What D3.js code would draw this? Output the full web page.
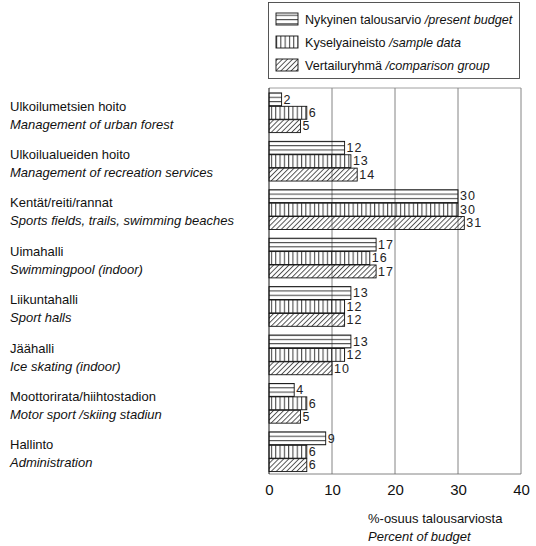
<!DOCTYPE html>
<html>
<head>
<meta charset="utf-8">
<script src="https://cdn.jsdelivr.net/npm/d3@7"></script>
<style>
  body { margin: 0; background: #fff; }
  svg { font-family: "Liberation Sans", Arial, sans-serif; }
</style>
</head>
<body>
<script>
// categories (Finnish / English)
const categoriesFi = ["Ulkoilumetsien hoito", "Ulkoilualueiden hoito", "Kentät/reiti/rannat", "Uimahalli",
  "Liikuntahalli", "Jäähalli", "Moottorirata/hiihtostadion", "Hallinto"];
const categoriesEn = ["Management of urban forest", "Management of recreation services",
  "Sports fields, trails, swimming beaches", "Swimmingpool (indoor)", "Sport halls",
  "Ice skating (indoor)", "Motor sport /skiing stadiun", "Administration"];

const seriesFi = ["Nykyinen talousarvio", "Kyselyaineisto", "Vertailuryhmä"];
const seriesEn = ["/present budget", "/sample data", "/comparison group"];

const presentBudget = [2, 12, 30, 17, 13, 13, 4, 9];
const sampleData = [6, 13, 30, 16, 12, 12, 6, 6];
const comparisonGroup = [5, 14, 31, 17, 12, 10, 5, 6];

const xTicks = [0, 10, 20, 30, 40];

const width = 536, height = 546;

const svg = d3.select("body").append("svg")
  .attr("width", width)
  .attr("height", height);

// patterns
const defs = svg.append("defs");
defs.append("pattern").attr("id", "p0")
  .attr("patternUnits", "userSpaceOnUse").attr("width", 8).attr("height", 4.3)
  .append("path").attr("d", "M0 0.6H8").attr("stroke", "#222").attr("stroke-width", 0.9);
defs.append("pattern").attr("id", "p1")
  .attr("patternUnits", "userSpaceOnUse").attr("width", 4.3).attr("height", 8)
  .append("path").attr("d", "M0.6 0V8").attr("stroke", "#222").attr("stroke-width", 0.9);
defs.append("pattern").attr("id", "p2")
  .attr("patternUnits", "userSpaceOnUse").attr("width", 3.6).attr("height", 8)
  .attr("patternTransform", "rotate(45)")
  .append("path").attr("d", "M0.5 0V8").attr("stroke", "#222").attr("stroke-width", 0.8);

const series = [presentBudget, sampleData, comparisonGroup];

const x = d3.scaleLinear().domain([0, 40]).range([269, 521]);
const y = d3.scaleBand().domain(d3.range(categoriesFi.length))
  .range([90, 474]).paddingInner(0.17).paddingOuter(0.05);
const ySub = d3.scaleBand().domain(d3.range(3)).range([0, y.bandwidth()]);

const plotTop = 88, plotBottom = 474;

// frame & gridlines
svg.append("g").selectAll("line")
  .data(xTicks.slice(1))
  .join("line")
  .attr("x1", d => x(d)).attr("x2", d => x(d))
  .attr("y1", plotTop).attr("y2", plotBottom)
  .attr("stroke", "#666").attr("stroke-width", 0.8);
svg.append("line").attr("x1", x(0)).attr("x2", x(40)).attr("y1", plotTop).attr("y2", plotTop)
  .attr("stroke", "#888").attr("stroke-width", 0.8);
svg.append("line").attr("x1", x(0)).attr("x2", x(40)).attr("y1", plotBottom).attr("y2", plotBottom)
  .attr("stroke", "#666").attr("stroke-width", 0.8);

// bars
const groups = svg.append("g").selectAll("g")
  .data(categoriesFi.map((c, i) => i))
  .join("g")
  .attr("transform", i => `translate(0,${y(i)})`);

groups.each(function (i) {
  const g = d3.select(this);
  series.forEach((s, k) => {
    g.append("rect")
      .attr("x", x(0))
      .attr("y", ySub(k) + 0.5)
      .attr("width", x(s[i]) - x(0))
      .attr("height", ySub.bandwidth() - 0.5)
      .attr("fill", "url(#p" + k + ")")
      .attr("stroke", "#111").attr("stroke-width", 0.9);
    g.append("text")
      .attr("x", x(s[i]) + 2)
      .attr("y", ySub(k) + ySub.bandwidth() / 2 + 4.5)
      .attr("font-size", 12.5)
      .attr("letter-spacing", 1)
      .attr("fill", "#222")
      .text(s[i]);
  });
});

// y axis line
svg.append("line").attr("x1", x(0)).attr("x2", x(0)).attr("y1", plotTop).attr("y2", plotBottom)
  .attr("stroke", "#111").attr("stroke-width", 1);

// category labels
const labels = svg.append("g").selectAll("text")
  .data(categoriesFi.map((c, i) => i))
  .join("text")
  .attr("x", 10)
  .attr("y", i => y(i) + y.bandwidth() / 2 - 2)
  .attr("font-size", 13)
  .attr("fill", "#111");
labels.append("tspan").text(i => categoriesFi[i]);
labels.append("tspan").attr("x", 10).attr("dy", 18)
  .attr("font-style", "italic").text(i => categoriesEn[i]);

// x axis
const xAxis = svg.append("g")
  .attr("transform", `translate(0,${plotBottom})`)
  .call(d3.axisBottom(x).tickValues(xTicks).tickSize(0).tickPadding(10));
xAxis.select(".domain").remove();
xAxis.selectAll("text")
  .attr("font-size", 15)
  .attr("font-family", "Liberation Sans, Arial, sans-serif")
  .attr("fill", "#111");

// axis title
const title = svg.append("text").attr("x", 368).attr("y", 523)
  .attr("font-size", 13).attr("fill", "#111");
title.append("tspan").text("%-osuus talousarviosta");
title.append("tspan").attr("x", 368).attr("dy", 18).attr("font-style", "italic").text("Percent of budget");

// legend
svg.append("rect")
  .attr("x", 268.5).attr("y", 2.5).attr("width", 251).attr("height", 76)
  .attr("fill", "none").attr("stroke", "#444").attr("stroke-width", 0.9);
const leg = svg.append("g").selectAll("g")
  .data(seriesFi.map((s, k) => k))
  .join("g")
  .attr("transform", k => `translate(276,${19 + k * 23})`);
leg.append("rect")
  .attr("x", 0).attr("y", -6).attr("width", 22).attr("height", 12)
  .attr("fill", k => "url(#p" + k + ")")
  .attr("stroke", "#111").attr("stroke-width", 0.9);
const lt = leg.append("text").attr("x", 29).attr("y", 4.5)
  .attr("font-size", 12.6).attr("fill", "#111");
lt.append("tspan").text(k => seriesFi[k] + " ");
lt.append("tspan").attr("font-style", "italic").text(k => seriesEn[k]);
</script>
</body>
</html>
